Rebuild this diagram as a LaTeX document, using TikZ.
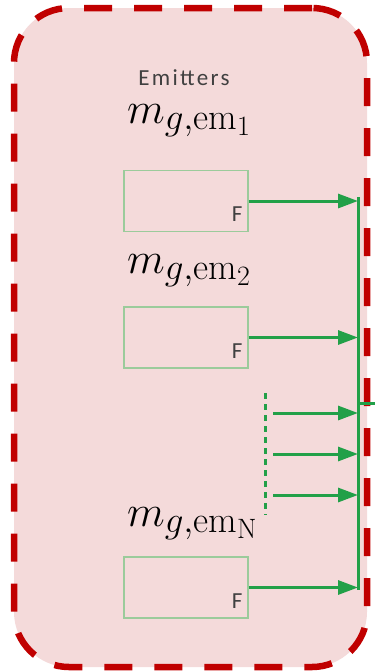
\RequirePackage{fix-cm}
\documentclass[tikz,border=0pt]{standalone}
\usepackage{fontspec}
\usepackage{xcolor}
\usetikzlibrary{positioning,arrows.meta,calc}
\newfontfamily\calib{Carlito}
\definecolor{frame}{HTML}{C00000}
\definecolor{panel}{HTML}{F4DADA}
\definecolor{wire}{HTML}{22A048}
\definecolor{boxline}{HTML}{9BCB9B}
\definecolor{ink}{HTML}{404040}
\DeclareMathSizes{44}{44}{37}{28}

\begin{document}
\begin{tikzpicture}[x=1pt,y=-1pt,
  group/.style={draw=frame,fill=panel,line width=6.5pt,dash pattern=on 28pt off 22pt,rounded corners=55pt,minimum width=353pt,minimum height=659pt},
  emit/.style={draw=boxline,line width=1.2pt,minimum width=124pt,minimum height=61pt,inner sep=0pt},
  flag/.style={font=\calib\fontsize{23}{27}\selectfont,color=ink,anchor=south east,inner sep=0pt},
  lbl/.style={font=\fontsize{44}{52}\selectfont,anchor=base west,inner sep=0pt},
  wireline/.style={draw=wire,line width=3pt},
  arr/.style={wireline,-{Triangle[length=20pt,width=14pt]}}]
  \useasboundingbox (0,0) rectangle (375,672);
  \node[group] (grp) at (190.5,337.5) {};
  \node[font=\calib\fontsize{23}{27}\selectfont\addfontfeatures{LetterSpace=10},color=ink] (title) at (184,78) {Emitters};

  \node[lbl] (m1) at (127,123) {$m_{g,\mathrm{em}_1}$};
  \node[emit] (em1) at (186,201) {};
  \node[flag] (f1) at ([xshift=-6pt,yshift=10pt]em1.south east) {F};
  \node[lbl] (m2) at (127,273) {$m_{g,\mathrm{em}_2}$};
  \node[emit] (em2) at (186,337.5) {};
  \node[flag] (f2) at ([xshift=-6pt,yshift=10pt]em2.south east) {F};
  \node[lbl] (mN) at (127,526) {$m_{g,\mathrm{em}_\mathrm{N}}$};
  \node[emit] (emN) at (186,587.5) {};
  \node[flag] (fN) at ([xshift=-6pt,yshift=10pt]emN.south east) {F};

  \coordinate (bus) at (358,0);
  \coordinate (dtop) at (265,393);
  \coordinate (dbot) at (265,515);
  \coordinate (s1) at (273,413);
  \coordinate (s2) at (273,454);
  \coordinate (s3) at (273,495);
  \coordinate (out) at (375,403);

  \draw[wireline] ([yshift=4pt]em1.east -| bus) -- ([yshift=-2pt]emN.east -| bus);
  \draw[wireline] (out -| bus) -- (out);
  \draw[arr] (em1.east) -- (em1.east -| bus);
  \draw[arr] (em2.east) -- (em2.east -| bus);
  \draw[arr] (emN.east) -- (emN.east -| bus);
  \draw[wireline,dash pattern=on 6pt off 5pt] (dtop) -- (dbot);
  \foreach \s in {s1,s2,s3}
    \draw[arr] (\s) -- (\s -| bus);
\end{tikzpicture}
\end{document}
